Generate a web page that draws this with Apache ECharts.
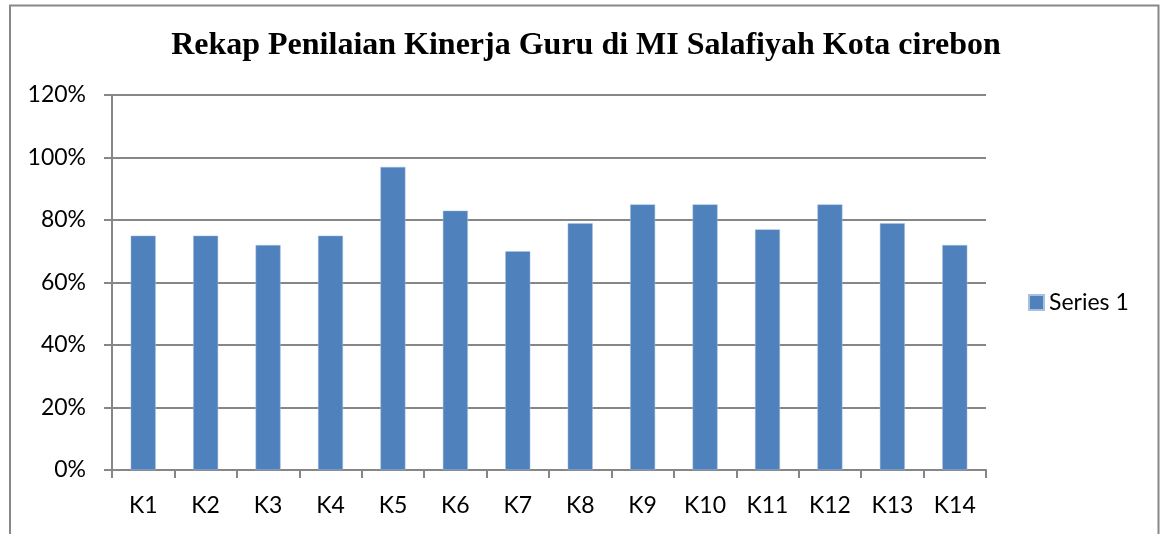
<!DOCTYPE html>
<html>
<head>
<meta charset="utf-8">
<script src="https://cdn.jsdelivr.net/npm/echarts@6/dist/echarts.min.js"></script>
<style>
  html, body { margin: 0; padding: 0; background: #fff; }
  #chart { width: 1160px; height: 534px; }
</style>
</head>
<body>
<div id="chart"></div>
<script>
var categories = ['K1', 'K2', 'K3', 'K4', 'K5', 'K6', 'K7', 'K8', 'K9', 'K10', 'K11', 'K12', 'K13', 'K14'];
var series1 = [75, 75, 72, 75, 97, 83, 70, 79, 85, 85, 77, 85, 79, 72];
var yTicks = [0, 20, 40, 60, 80, 100, 120];

var chart = echarts.init(document.getElementById('chart'));

var option = {
  animation: false,
  backgroundColor: '#fff',
  title: {
    text: 'Rekap Penilaian Kinerja Guru di MI Salafiyah Kota cirebon',
    left: 586,
    textAlign: 'center',
    top: 30,
    padding: 0,
    textStyle: {
      fontFamily: 'Liberation Serif',
      fontWeight: 'bold',
      fontSize: 32,
      color: '#000'
    }
  },
  graphic: [
    {
      type: 'polyline',
      shape: { points: [[10, 540], [10, 5.5], [1158.5, 5.5], [1158.5, 540]] },
      style: { stroke: '#888', lineWidth: 2, fill: null }
    }
  ],
  legend: {
    data: ['Series 1'],
    left: 1028,
    top: 291,
    padding: 0,
    itemWidth: 15,
    itemHeight: 15,
    itemGap: 8,
    icon: 'rect',
    textStyle: { fontFamily: 'Lato', fontSize: 23, color: '#000' }
  },
  grid: {
    left: 112,
    top: 95,
    width: 874,
    height: 375,
    containLabel: false
  },
  xAxis: {
    type: 'category',
    data: categories,
    axisLine: { lineStyle: { color: '#868686', width: 2 } },
    axisTick: { show: true, length: 8, alignWithLabel: false, lineStyle: { color: '#868686', width: 2 } },
    axisLabel: { margin: 24, fontFamily: 'Lato', fontSize: 23, color: '#000' },
    splitLine: { show: false }
  },
  yAxis: {
    type: 'value',
    min: yTicks[0],
    max: yTicks[yTicks.length - 1],
    interval: 20,
    axisLine: { show: true, lineStyle: { color: '#868686', width: 2 } },
    axisTick: { show: true, length: 8, lineStyle: { color: '#868686', width: 2 } },
    axisLabel: {
      margin: 26,
      fontFamily: 'Lato',
      fontSize: 23,
      color: '#000',
      formatter: function (v) { return v + '%'; }
    },
    splitLine: { show: true, lineStyle: { color: '#868686', width: 2 } }
  },
  series: [
    {
      name: 'Series 1',
      type: 'bar',
      data: series1,
      barWidth: 25,
      itemStyle: { color: '#4F81BD', borderColor: '#A7C0DE', borderWidth: 0.5 }
    }
  ]
};

chart.setOption(option);
</script>
</body>
</html>
